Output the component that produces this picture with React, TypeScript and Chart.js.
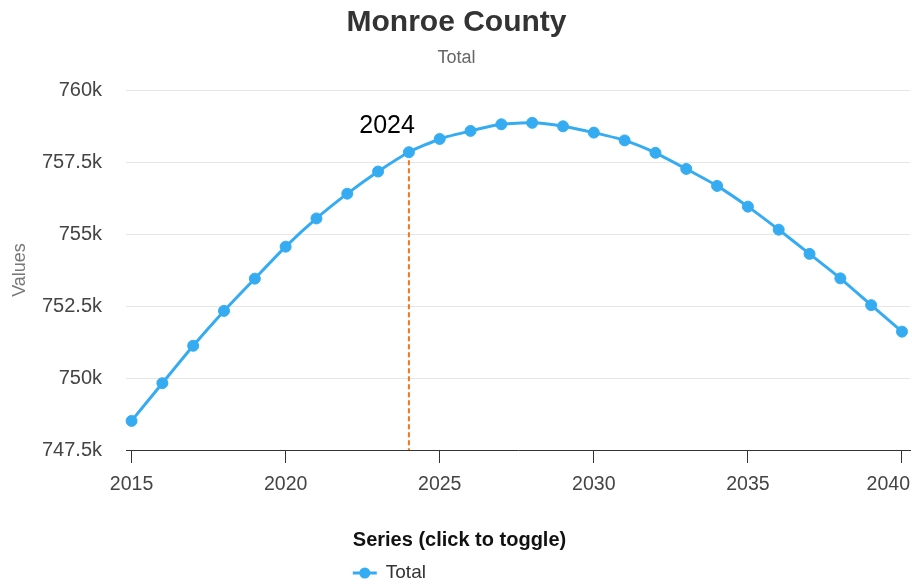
import React, { useEffect, useRef } from 'react';
import { Chart, registerables } from 'chart.js';

Chart.register(...registerables);

const years = [2015, 2016, 2017, 2018, 2019, 2020, 2021, 2022, 2023, 2024, 2025, 2026, 2027,
  2028, 2029, 2030, 2031, 2032, 2033, 2034, 2035, 2036, 2037, 2038, 2039, 2040];
const totals = [748510, 749820, 751120, 752330, 753450, 754560, 755540, 756400, 757170, 757840,
  758300, 758580, 758810, 758860, 758740, 758520, 758250, 757820, 757260, 756670, 755950,
  755150, 754310, 753460, 752530, 751610];
const xTickYears = [2015, 2020, 2025, 2030, 2035, 2040];
const yTickValues = [747500, 750000, 752500, 755000, 757500, 760000];
const markerYear = 2024;
const titleText = 'Monroe County';
const subtitleText = 'Total';
const seriesName = 'Total';
const legendTitle = 'Series (click to toggle)';
const yAxisTitle = 'Values';

const FONT = "'Liberation Sans', Arial, Helvetica, sans-serif";
const BLUE = '#35acf1';
const ORANGE = '#f2761c';

function fmtK(v: number): string {
  const k = v / 1000;
  return (Number.isInteger(k) ? String(k) : k.toFixed(1)) + 'k';
}

const overlayPlugin = {
  id: 'overlay',
  beforeDatasetsDraw(chart: any) {
    const { ctx, chartArea, scales } = chart;
    const idx = years.indexOf(markerYear);
    const x = scales.x.getPixelForValue(markerYear);
    const y = scales.y.getPixelForValue(totals[idx]);
    ctx.save();
    ctx.strokeStyle = ORANGE;
    ctx.lineWidth = 2;
    ctx.setLineDash([5, 3]);
    ctx.beginPath();
    ctx.moveTo(x, y);
    ctx.lineTo(x, chartArea.bottom);
    ctx.stroke();
    ctx.restore();
  },
  afterDraw(chart: any) {
    const { ctx, chartArea, scales } = chart;
    const idx = years.indexOf(markerYear);
    const mx = scales.x.getPixelForValue(markerYear);
    const my = scales.y.getPixelForValue(totals[idx]);
    ctx.save();
    // marker label
    ctx.font = `25px ${FONT}`;
    ctx.fillStyle = '#000';
    ctx.textAlign = 'right';
    ctx.textBaseline = 'middle';
    ctx.fillText(String(markerYear), mx + 6, my - 26);

    // x tick labels
    ctx.font = `19.5px ${FONT}`;
    ctx.fillStyle = '#444';
    ctx.textAlign = 'center';
    ctx.textBaseline = 'middle';
    xTickYears.forEach((v) => {
      const t = String(v);
      const w = ctx.measureText(t).width;
      let cx = scales.x.getPixelForValue(v);
      if (cx + w / 2 > chartArea.right) cx = chartArea.right - w / 2;
      ctx.fillText(t, cx, chartArea.bottom + 35);
    });

    // legend
    const H = chart.height;
    ctx.font = `bold 20px ${FONT}`;
    ctx.fillStyle = '#111';
    ctx.textAlign = 'center';
    const tcx = chart.width / 2 + 3.5;
    const tw = ctx.measureText(legendTitle).width;
    ctx.fillText(legendTitle, tcx, H - 46);
    const lx = tcx - tw / 2;
    const ly = H - 13;
    ctx.strokeStyle = BLUE;
    ctx.lineWidth = 3;
    ctx.beginPath();
    ctx.moveTo(lx, ly);
    ctx.lineTo(lx + 24, ly);
    ctx.stroke();
    ctx.fillStyle = BLUE;
    ctx.beginPath();
    ctx.arc(lx + 12, ly, 5.5, 0, Math.PI * 2);
    ctx.fill();
    ctx.font = `19px ${FONT}`;
    ctx.fillStyle = '#333';
    ctx.textAlign = 'left';
    ctx.fillText(seriesName, lx + 33, ly);
    ctx.restore();
  },
};

export default function App() {
  const ref = useRef<HTMLCanvasElement | null>(null);
  useEffect(() => {
    if (!ref.current) return;
    const chart = new Chart(ref.current, {
      type: 'line',
      data: {
        datasets: [
          {
            label: seriesName,
            data: years.map((y, i) => ({ x: y, y: totals[i] })),
            borderColor: BLUE,
            backgroundColor: BLUE,
            borderWidth: 3,
            pointRadius: 5.5,
            pointBorderWidth: 1,
            pointBackgroundColor: BLUE,
            pointBorderColor: BLUE,
            tension: 0.2,
            fill: false,
            clip: 10,
          },
        ],
      },
      options: {
        responsive: false,
        animation: false,
        maintainAspectRatio: false,
        font: { family: FONT },
        layout: { autoPadding: false, padding: { left: 3, right: 2, top: 0, bottom: 76 } },
        plugins: {
          legend: { display: false },
          tooltip: { enabled: false },
          title: {
            display: true,
            text: titleText,
            color: '#333',
            font: { family: FONT, size: 30, weight: 'bold' },
            padding: { top: 5, bottom: 0 },
          },
          subtitle: {
            display: true,
            text: subtitleText,
            color: '#666',
            font: { family: FONT, size: 18 },
            padding: { top: 6.2, bottom: 21.2 },
          },
        },
        scales: {
          x: {
            type: 'linear',
            min: 2014.82,
            max: 2040.26,
            afterBuildTicks: (scale: any) => {
              scale.ticks = xTickYears.map((v) => ({ value: v }));
            },
            afterFit: (scale: any) => {
              scale.height = 60;
            },
            ticks: { display: false },
            grid: {
              drawOnChartArea: false,
              drawTicks: true,
              tickLength: 13,
              color: '#333',
              tickColor: '#333',
            },
            border: { display: true, color: '#333', width: 1 },
          },
          y: {
            min: yTickValues[0],
            max: yTickValues[yTickValues.length - 1],
            afterBuildTicks: (scale: any) => {
              scale.ticks = yTickValues.map((v) => ({ value: v }));
            },
            afterFit: (scale: any) => {
              scale.width = 123;
            },
            ticks: {
              color: '#444',
              font: { family: FONT, size: 20 },
              padding: 24,
              callback: (v: any) => fmtK(Number(v)),
            },
            grid: { color: '#e6e6e6', drawTicks: false, lineWidth: 1 },
            border: { display: false },
            title: {
              display: true,
              text: yAxisTitle,
              color: '#777',
              font: { family: FONT, size: 18 },
              padding: { top: 6, bottom: 0 },
            },
          },
        },
      } as any,
      plugins: [overlayPlugin],
    });
    return () => chart.destroy();
  }, []);

  return (
    <div style={{ position: 'absolute', left: 0, top: 0, width: 912, height: 586, background: '#fff' }}>
      <canvas ref={ref} width={912} height={586} style={{ display: 'block' }} />
    </div>
  );
}
